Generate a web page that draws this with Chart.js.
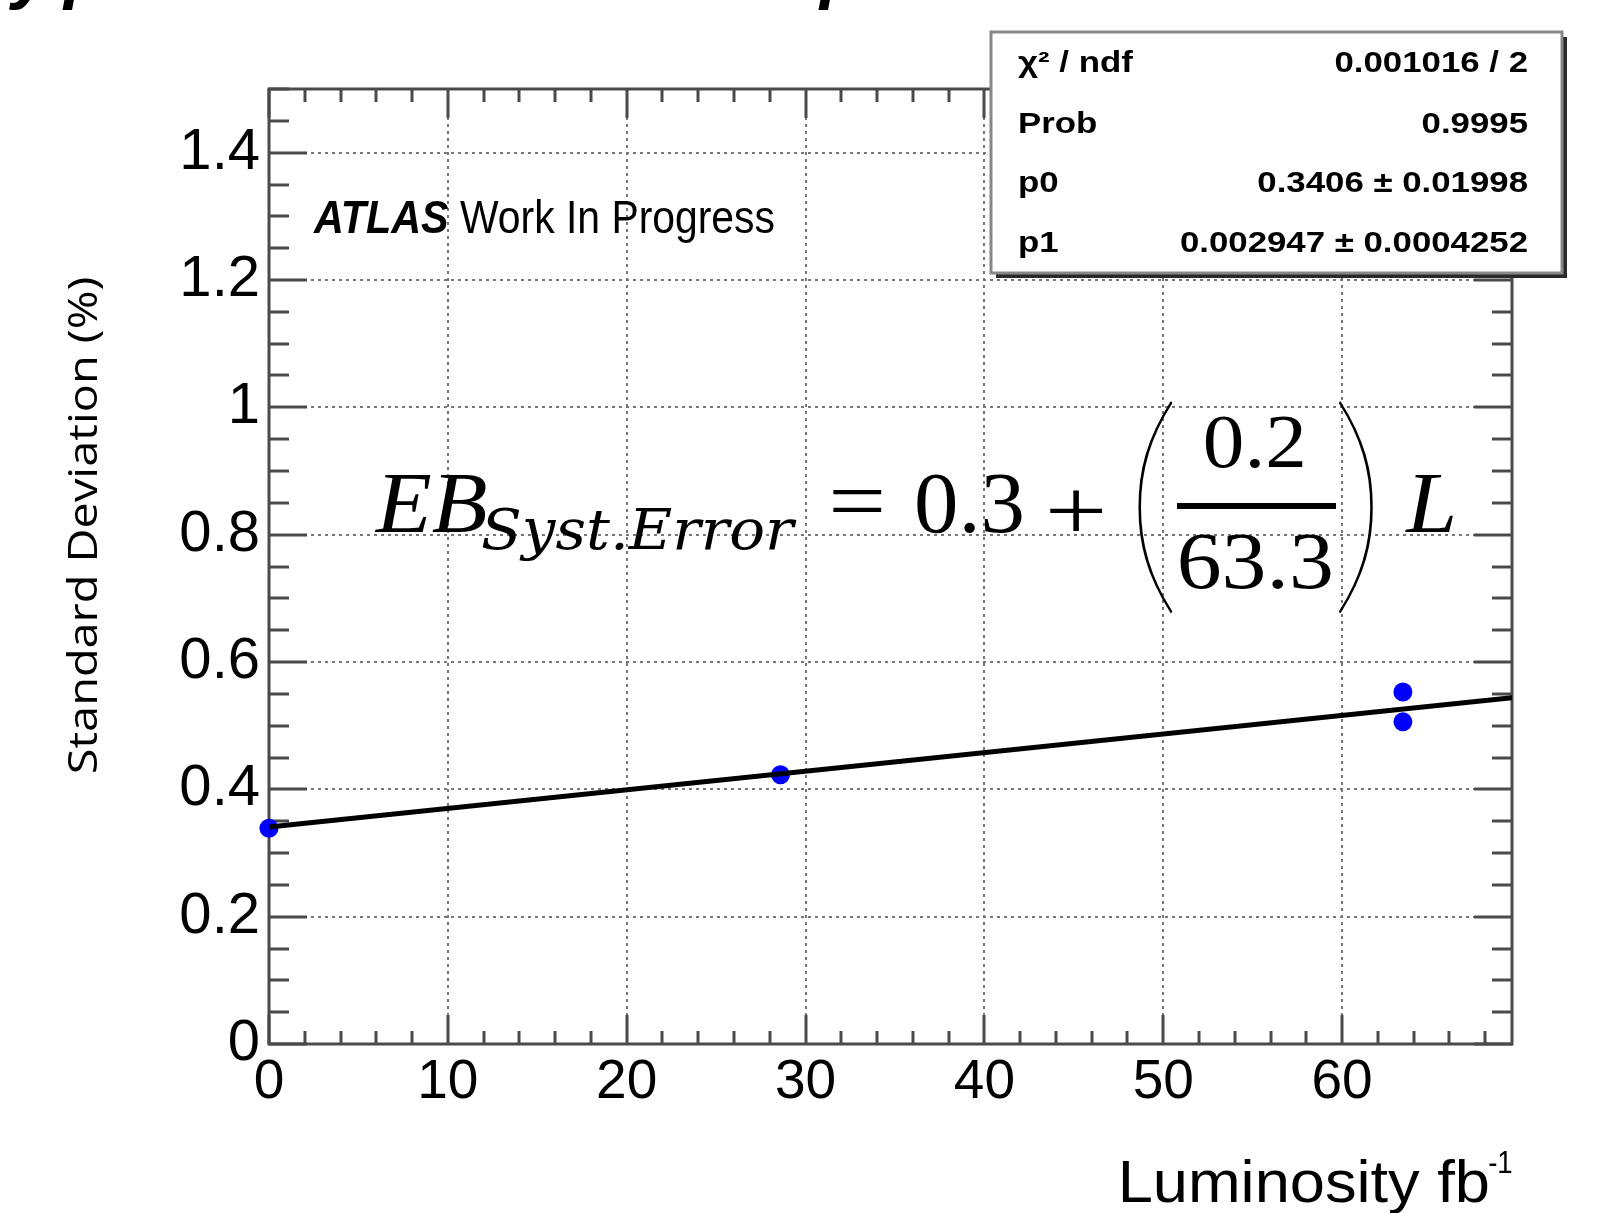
<!DOCTYPE html>
<html>
<head>
<meta charset="utf-8">
<script src="https://cdn.jsdelivr.net/npm/chart.js@4.4.0/dist/chart.umd.min.js"></script>
<style>
  html, body { margin: 0; padding: 0; background: #fff; }
  #wrap { position: relative; width: 1609px; height: 1213px; }
</style>
</head>
<body>
<div id="wrap"><canvas id="chart"></canvas></div>
<script>
// measured points: luminosity (fb^-1) vs standard deviation (%)
const lumi = [0, 28.6, 63.4, 63.4];
const stdDev = [0.339, 0.423, 0.553, 0.506];

// fitted straight line, read at both ends of the frame
const fitLumi = [0, 69.5];
const fitStdDev = [0.341, 0.544];

const xTicks = [0, 10, 20, 30, 40, 50, 60];
const xTickLabels = ['0', '10', '20', '30', '40', '50', '60'];
const yTicks = [0, 0.2, 0.4, 0.6, 0.8, 1.0, 1.2, 1.4];
const yTickLabels = ['0', '0.2', '0.4', '0.6', '0.8', '1', '1.2', '1.4'];

const statNames = ['χ² / ndf', 'Prob', 'p0', 'p1'];
const statValues = ['0.001016 / 2', '0.9995', '0.3406 ± 0.01998', '0.002947 ± 0.0004252'];

// draw text so its ink spans x0..x1 on the given baseline
function fitText(ctx, text, font, x0, x1, base) {
  ctx.font = font;
  ctx.textAlign = 'left';
  ctx.textBaseline = 'alphabetic';
  const m = ctx.measureText(text);
  const w = m.actualBoundingBoxLeft + m.actualBoundingBoxRight;
  ctx.save();
  ctx.translate(x0, base);
  ctx.scale((x1 - x0) / w, 1);
  ctx.fillText(text, m.actualBoundingBoxLeft, 0);
  ctx.restore();
}

// stretch text ink into a box (used for the tall brackets)
function boxText(ctx, text, font, x0, y0, x1, y1) {
  ctx.font = font;
  ctx.textAlign = 'left';
  ctx.textBaseline = 'alphabetic';
  const m = ctx.measureText(text);
  const w = m.actualBoundingBoxLeft + m.actualBoundingBoxRight;
  const h = m.actualBoundingBoxAscent + m.actualBoundingBoxDescent;
  ctx.save();
  ctx.translate(x0, y0);
  ctx.scale((x1 - x0) / w, (y1 - y0) / h);
  ctx.fillText(text, m.actualBoundingBoxLeft, m.actualBoundingBoxAscent);
  ctx.restore();
}

// ROOT style frame with inward ticks on all four sides
const frame = {
  id: 'frame',
  beforeDatasetsDraw(chart) {
    const { ctx, chartArea: a, scales: { x, y } } = chart;
    ctx.save();
    ctx.strokeStyle = '#4a4a4a';
    ctx.lineWidth = 3;
    ctx.beginPath();
    for (let i = 0; i <= 30; i++) {
      const py = Math.round(y.getPixelForValue(i * 0.05));
      const len = i % 4 === 0 ? 38 : 20;
      ctx.moveTo(a.left, py); ctx.lineTo(a.left + len, py);
      ctx.moveTo(a.right, py); ctx.lineTo(a.right - len, py);
    }
    for (let i = 0; i <= 34; i++) {
      const px = Math.round(x.getPixelForValue(i * 2));
      const len = i % 5 === 0 ? 29 : 13;
      ctx.moveTo(px, a.bottom); ctx.lineTo(px, a.bottom - len);
      ctx.moveTo(px, a.top); ctx.lineTo(px, a.top + len);
    }
    ctx.stroke();
    ctx.strokeRect(a.left, a.top, a.right - a.left, a.bottom - a.top);
    ctx.restore();
  }
};

const overlay = {
  id: 'overlay',
  afterDraw(chart) {
    const ctx = chart.ctx;
    ctx.save();
    ctx.fillStyle = '#000';

    // tails of the slide title cut off at the top
    ctx.font = 'bold italic 70px "Liberation Sans"';
    ctx.textAlign = 'left';
    ctx.textBaseline = 'alphabetic';
    ctx.fillText('y', 12, -5);
    ctx.fillText('p', 64, -5);
    ctx.fillText('p', 820, -5);

    // axis titles
    ctx.save();
    ctx.translate(97, 772);
    ctx.rotate(-Math.PI / 2);
    fitText(ctx, 'Standard Deviation (%)', '41px "Open Sans"', 0, 494, 0);
    ctx.restore();
    fitText(ctx, 'Luminosity fb', '59px "Liberation Sans"', 1122, 1488, 1202);
    fitText(ctx, '-1', '32px "Liberation Sans"', 1489, 1512, 1173);

    // experiment label
    fitText(ctx, 'ATLAS', 'bold italic 46px "Liberation Sans"', 313, 449, 233);
    fitText(ctx, 'Work In Progress', '46px "Liberation Sans"', 460, 774, 233);

    // equation
    const serif = '"Liberation Serif"';
    fitText(ctx, 'EB', 'italic 86px ' + serif, 374, 486, 532);
    fitText(ctx, 'Syst.Error', 'italic 56px "DejaVu Serif"', 482, 797, 549);
    fitText(ctx, '=', '86px ' + serif, 833, 882, 530);
    fitText(ctx, '0.3', '86px ' + serif, 917, 1022, 532);
    fitText(ctx, '+', '86px ' + serif, 1050, 1103, 540);
    boxText(ctx, '(', '200 240px Lato', 1138, 400, 1173, 613);
    ctx.fillRect(1177, 503, 159, 6);
    fitText(ctx, '0.2', '77px ' + serif, 1205, 1303, 467);
    fitText(ctx, '63.3', '81px ' + serif, 1180, 1331, 588);
    boxText(ctx, ')', '200 240px Lato', 1338, 400, 1373, 613);
    fitText(ctx, 'L', 'italic 86px ' + serif, 1404, 1453, 532);

    // fit statistics box
    ctx.fillStyle = '#2a2a2a';
    ctx.fillRect(996, 37, 571, 241);
    ctx.fillStyle = '#fff';
    ctx.fillRect(991, 32, 571, 241);
    ctx.strokeStyle = '#888';
    ctx.lineWidth = 3;
    ctx.strokeRect(991, 32, 571, 241);
    ctx.fillStyle = '#000';
    ctx.font = 'bold 29px "Liberation Sans"';
    const rows = [72, 133, 192, 252];
    statNames.forEach((name, i) => {
      ctx.save();
      ctx.translate(1018, rows[i]);
      ctx.scale(1.2, 1);
      ctx.textAlign = 'left';
      ctx.fillText(name, 0, 0);
      ctx.restore();
      ctx.save();
      ctx.translate(1528, rows[i]);
      ctx.scale(1.2, 1);
      ctx.textAlign = 'right';
      ctx.fillText(statValues[i], 0, 0);
      ctx.restore();
    });
    ctx.restore();
  }
};

new Chart(document.getElementById('chart'), {
  type: 'scatter',
  data: {
    datasets: [
      {
        type: 'line',
        data: fitLumi.map((v, i) => ({ x: v, y: fitStdDev[i] })),
        borderColor: '#000',
        borderWidth: 5,
        pointRadius: 0,
        fill: false,
        order: 0,
      },
      {
        data: lumi.map((v, i) => ({ x: v, y: stdDev[i] })),
        backgroundColor: '#0000ff',
        borderWidth: 0,
        pointRadius: 9.5,
        clip: false,
        order: 1,
      },
    ],
  },
  options: {
    responsive: true,
    maintainAspectRatio: false,
    animation: false,
    devicePixelRatio: 1,
    layout: { padding: { top: 89, right: 97, left: 0, bottom: 0 } },
    scales: {
      x: {
        type: 'linear',
        min: 0,
        max: 69.5,
        afterBuildTicks: (s) => { s.ticks = xTicks.map(v => ({ value: v })); },
        afterFit: (s) => { s.height = 169; },
        ticks: {
          autoSkip: false,
          maxRotation: 0,
          padding: 6,
          color: '#000',
          font: { family: 'Liberation Sans', size: 55 },
          callback: (v, i) => xTickLabels[i],
        },
        grid: { color: '#777', lineWidth: 2, drawTicks: false },
        border: { display: false, dash: [3, 4] },
      },
      y: {
        type: 'linear',
        min: 0,
        max: 1.5,
        afterBuildTicks: (s) => { s.ticks = yTicks.map(v => ({ value: v })); },
        afterFit: (s) => { s.width = 269; },
        ticks: {
          autoSkip: false,
          padding: 9,
          color: '#000',
          font: { family: 'Liberation Sans', size: 58 },
          callback: (v, i) => yTickLabels[i],
        },
        grid: { color: '#777', lineWidth: 2, drawTicks: false },
        border: { display: false, dash: [3, 4] },
      },
    },
    plugins: {
      legend: { display: false },
      tooltip: { enabled: false },
    },
  },
  plugins: [frame, overlay],
});
</script>
</body>
</html>
